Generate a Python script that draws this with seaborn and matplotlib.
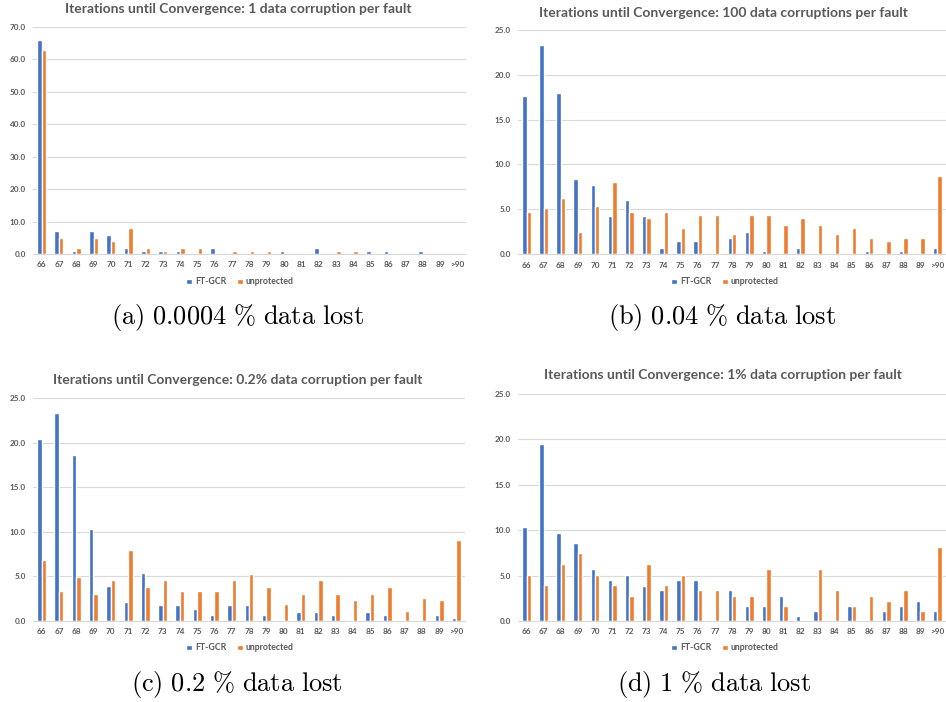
import matplotlib
matplotlib.use("Agg")
import matplotlib.pyplot as plt
import seaborn as sns
import pandas as pd
from matplotlib.patches import Patch

categories = [str(v) for v in range(66, 90)] + [">90"]
series_names = ["FT-GCR", "unprotected"]

a_ft = [66, 7, 1, 7, 6, 2, 1, 1, 1, 0, 2, 0, 0, 0, 1, 0, 2, 0, 0, 1, 1, 0, 1, 0, 0]
a_un = [63, 5, 2, 5, 4, 8, 2, 1, 2, 2, 0, 1, 1, 1, 0, 0, 0, 1, 1, 0, 0, 0, 0, 0, 0]

b_ft = [17.6, 23.3, 18.0, 8.4, 7.7, 4.2, 6.0, 4.2, 0.7, 1.4, 1.4, 0, 1.75, 2.5, 0.35,
        0, 0.7, 0, 0, 0, 0.35, 0, 0.35, 0, 0.7]
b_un = [4.7, 5.1, 6.2, 2.5, 5.4, 8.0, 4.7, 4.0, 4.7, 2.9, 4.4, 4.4, 2.2, 4.4, 4.4,
        3.2, 4.0, 3.2, 2.2, 2.9, 1.8, 1.4, 1.8, 1.8, 8.7]

c_ft = [20.4, 23.3, 18.6, 10.35, 3.9, 2.1, 5.4, 1.75, 1.75, 1.4, 0.7, 1.75, 1.75, 0.7,
        0, 1.0, 1.0, 0.7, 0, 1.0, 0.7, 0, 0, 0.7, 0.35]
c_un = [6.8, 3.4, 4.9, 3.0, 4.55, 8.0, 3.8, 4.55, 3.4, 3.4, 3.4, 4.55, 5.3, 3.8, 1.9,
        3.0, 4.55, 3.0, 2.3, 3.0, 3.8, 1.15, 2.6, 2.3, 9.1]

d_ft = [10.3, 19.5, 9.7, 8.6, 5.7, 4.5, 5.1, 3.9, 3.4, 4.5, 4.5, 0, 3.4, 1.7, 1.7,
        2.8, 0.5, 1.1, 0, 1.7, 0, 1.1, 1.7, 2.25, 1.1]
d_un = [5.1, 4.0, 6.3, 7.5, 5.1, 4.0, 2.8, 6.3, 4.0, 5.1, 3.4, 3.4, 2.8, 2.8, 5.7,
        1.7, 0, 5.7, 3.4, 1.7, 2.8, 2.25, 3.4, 1.1, 8.1]

titles = [
    "Iterations until Convergence: 1 data corruption per fault",
    "Iterations until Convergence: 100 data corruptions per fault",
    "Iterations until Convergence: 0.2% data corruption per fault",
    "Iterations until Convergence: 1% data corruption per fault",
]
captions = [
    r"$\mathrm{(a)\ 0.0004\ \%\ data\ lost}$",
    r"$\mathrm{(b)\ 0.04\ \%\ data\ lost}$",
    r"$\mathrm{(c)\ 0.2\ \%\ data\ lost}$",
    r"$\mathrm{(d)\ 1\ \%\ data\ lost}$",
]
y_max = [70, 25, 25, 25]
y_step = [10, 5, 5, 5]

sns.set_theme(style="white")
plt.rcParams["font.family"] = ["Lato", "DejaVu Sans"]
plt.rcParams["mathtext.fontset"] = "cm"

BLUE = "#4472C4"
ORANGE = "#ED7D31"
GRAY_TXT = "#595959"
GRID = "#D9D9D9"

W, H = 946, 702
fig = plt.figure(figsize=(W / 100, H / 100), dpi=100)

# panel layout in pixels: (left, right, top, bottom)
boxes = [(33, 466, 27, 254), (518, 946, 30, 254), (33, 465, 398, 621), (518, 946, 394, 621)]
title_pos = [(238, 9), (723, 13), (238, 380), (723, 375)]
tick_y = [265, 266, 632, 632]
legend_pos = [(240, 282), (725, 282), (240, 648), (725, 648)]
caption_pos = [(237, 318), (722, 318), (237, 685), (714, 685)]

data_sets = [(a_ft, a_un), (b_ft, b_un), (c_ft, c_un), (d_ft, d_un)]

for i, (ft, un) in enumerate(data_sets):
    l, r, t, b = boxes[i]
    ax = fig.add_axes([l / W, 1 - b / H, (r - l) / W, (b - t) / H])
    df = pd.DataFrame({
        "cat": categories * 2,
        "value": list(ft) + list(un),
        "series": [series_names[0]] * len(categories) + [series_names[1]] * len(categories),
    })
    sns.barplot(data=df, x="cat", y="value", hue="series", order=categories,
                hue_order=series_names, palette=[BLUE, ORANGE], width=0.52,
                gap=0, legend=False, ax=ax, saturation=1, errorbar=None)
    ax.set_ylim(0, y_max[i])
    ax.set_xlim(-0.5, len(categories) - 0.5)
    ax.set_yticks(range(0, y_max[i] + 1, y_step[i]))
    ax.set_yticklabels([f"{v:.1f}" for v in range(0, y_max[i] + 1, y_step[i])])
    ax.set_xlabel("")
    ax.set_ylabel("")
    ax.grid(axis="y", color=GRID, linewidth=0.8)
    ax.set_axisbelow(True)
    for s in ["left", "right", "top"]:
        ax.spines[s].set_visible(False)
    ax.spines["bottom"].set_color(GRID)
    ax.spines["bottom"].set_linewidth(0.8)
    ax.tick_params(axis="both", length=0, labelsize=5.9, labelcolor=GRAY_TXT)
    ax.tick_params(axis="y", pad=5)
    ax.tick_params(axis="x", pad=(tick_y[i] - b) * 0.72 - 2.8)
    for lab in ax.get_xticklabels() + ax.get_yticklabels():
        lab.set_fontweight("bold")

    fig.text(title_pos[i][0] / W, 1 - title_pos[i][1] / H, titles[i],
             ha="center", va="center", fontsize=10, fontweight="bold",
             color=GRAY_TXT)
    handles = [Patch(facecolor=BLUE, label=series_names[0]),
               Patch(facecolor=ORANGE, label=series_names[1])]
    leg = fig.legend(handles=handles, loc="center",
                     bbox_to_anchor=(legend_pos[i][0] / W, 1 - legend_pos[i][1] / H),
                     ncol=2, frameon=False, fontsize=6.3, handlelength=0.65,
                     handleheight=0.65, handletextpad=0.35, columnspacing=1.2,
                     borderpad=0)
    for txt in leg.get_texts():
        txt.set_color(GRAY_TXT)
        txt.set_fontweight("bold")
    fig.text(caption_pos[i][0] / W, 1 - caption_pos[i][1] / H, captions[i],
             ha="center", va="center", fontsize=19, color="black")

fig.savefig("out.png", dpi=100)
